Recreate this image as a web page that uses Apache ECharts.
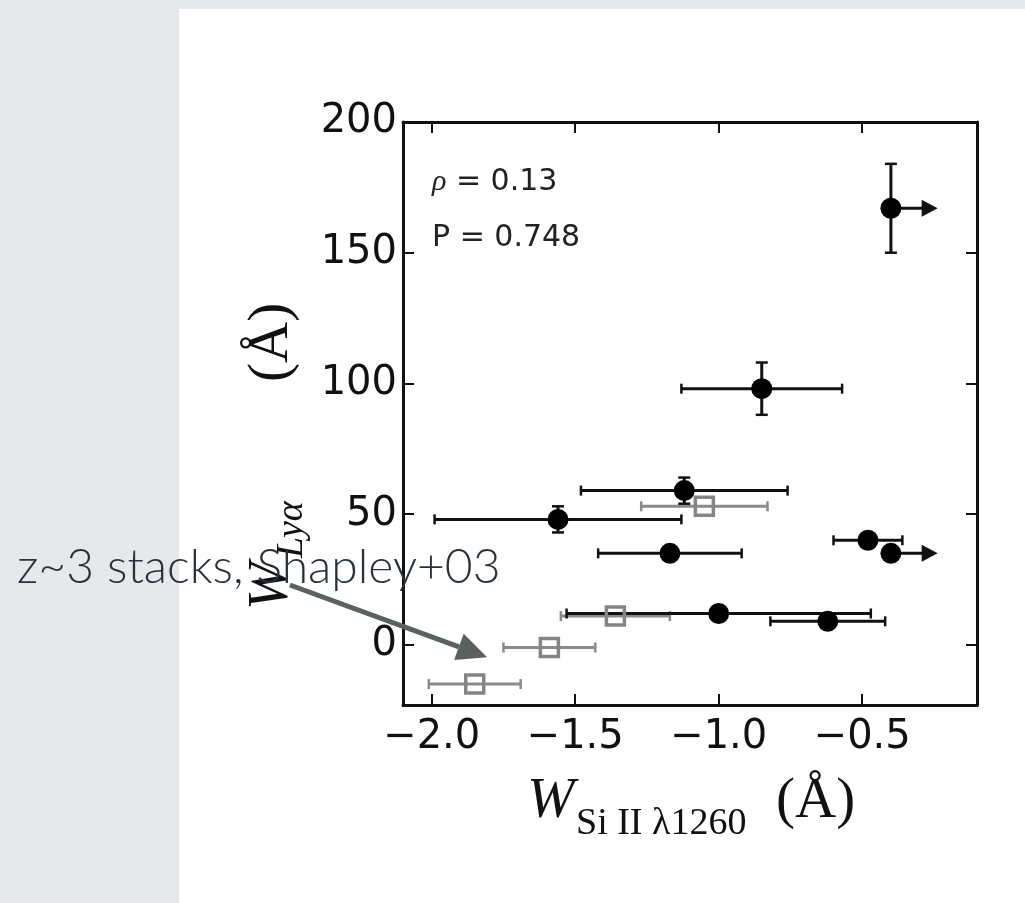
<!DOCTYPE html>
<html><head><meta charset="utf-8">
<script src="https://cdn.jsdelivr.net/npm/echarts@6/dist/echarts.min.js"></script>
<style>html,body{margin:0;padding:0;background:#e6e8eb;overflow:hidden;} #c{width:1025px;height:903px;}</style>
</head><body><div id="c"></div>
<script>
// ---- data ----
// Black filled circles: this sample
const sampleX    = [-0.40, -0.85, -1.12, -1.56, -1.17, -1.00, -0.62, -0.48, -0.40];
const sampleY    = [167,   98,    59,    48,    35,    12,    9,     40,    35];
const sampleXErr = [0,     0.28,  0.36,  0.43,  0.25,  0.53,  0.20,  0.12,  0];
const sampleYErr = [17,    10,    5,     5,     0,     0,     0,     0,     0];
const sampleLowerLimit = [1, 0, 0, 0, 0, 0, 0, 0, 1]; // arrow to the right
// Grey open squares: z~3 stacks, Shapley+03
const stackX    = [-1.05, -1.36, -1.59, -1.85];
const stackY    = [53,    11,    -1,    -15];
const stackXErr = [0.22,  0.19,  0.16,  0.16];
const stackYErr = [0,     0,     0,     0];
// axes
const xTicks = [-2.0, -1.5, -1.0, -0.5];
const yTicks = [0, 50, 100, 150, 200];
const xRange = [-2.1, -0.1];
const yRange = [-23, 200];
const statsText = ['= 0.13', 'P = 0.748'];
const annotationText = 'z~3 stacks, Shapley+03';
// annotation arrow, in data units (tail, tip)
const annotTail = [-2.494, 22.9];
const annotTip  = [-1.807, -4.7];

const ARROW_LEN = 0.163; // length of limit arrows (x units)

function rows(xs, ys, exs, eys, lims) {
  return xs.map((x, i) => [x, ys[i], exs[i], eys[i], lims ? lims[i] : 0]);
}

function errRender(color) {
  return function (params, api) {
    const x = api.value(0), y = api.value(1), ex = api.value(2), ey = api.value(3), lim = api.value(4);
    const c = api.coord([x, y]);
    const ch = [];
    const st = { stroke: color, lineWidth: 3 };
    const cst = { stroke: color, lineWidth: 2.5 };
    if (ex > 0) {
      const l = api.coord([x - ex, y]), r = api.coord([x + ex, y]);
      ch.push({ type: 'line', shape: { x1: l[0], y1: l[1], x2: r[0], y2: r[1] }, style: st });
      ch.push({ type: 'line', shape: { x1: l[0], y1: l[1] - 5, x2: l[0], y2: l[1] + 5 }, style: cst });
      ch.push({ type: 'line', shape: { x1: r[0], y1: r[1] - 5, x2: r[0], y2: r[1] + 5 }, style: cst });
    }
    if (ey > 0) {
      const t = api.coord([x, y + ey]), b = api.coord([x, y - ey]);
      ch.push({ type: 'line', shape: { x1: t[0], y1: t[1], x2: b[0], y2: b[1] }, style: st });
      ch.push({ type: 'line', shape: { x1: t[0] - 6, y1: t[1], x2: t[0] + 6, y2: t[1] }, style: cst });
      ch.push({ type: 'line', shape: { x1: b[0] - 6, y1: b[1], x2: b[0] + 6, y2: b[1] }, style: cst });
    }
    if (lim > 0) {
      const t = api.coord([x + ARROW_LEN, y]);
      ch.push({ type: 'line', shape: { x1: c[0], y1: c[1], x2: t[0] - 14, y2: t[1] }, style: st });
      ch.push({ type: 'polygon', shape: { points: [[t[0] - 16, t[1] - 8.5], [t[0], t[1]], [t[0] - 16, t[1] + 8.5]] }, style: { fill: color } });
    }
    return { type: 'group', children: ch };
  };
}

const chart = echarts.init(document.getElementById('c'), null, { renderer: 'canvas' });
const grid = { left: 403, top: 122, right: 48, bottom: 198 };
const axisCol = '#111';
function xAxis(pos, showLabel) {
  return {
    type: 'value', position: pos, min: xRange[0], max: xRange[1],
    axisLine: { show: true, onZero: false, lineStyle: { color: axisCol, width: 3 } },
    axisTick: { show: true, inside: true, length: 11, customValues: xTicks, lineStyle: { color: axisCol, width: 2 } },
    axisLabel: { show: showLabel, customValues: xTicks, margin: 13, fontSize: 40, fontFamily: 'DejaVu Sans', color: '#111',
      formatter: v => (v < 0 ? '\u2212' : '') + Math.abs(v).toFixed(1) },
    splitLine: { show: false }
  };
}
function yAxis(pos, showLabel) {
  return {
    type: 'value', position: pos, min: yRange[0], max: yRange[1],
    axisLine: { show: true, onZero: false, lineStyle: { color: axisCol, width: 3 } },
    axisTick: { show: true, inside: true, length: 11, customValues: yTicks, lineStyle: { color: axisCol, width: 2 } },
    axisLabel: { show: showLabel, customValues: yTicks, margin: 6, fontSize: 40, fontFamily: 'DejaVu Sans', color: '#111',
      formatter: v => String(v) },
    splitLine: { show: false }
  };
}

const serif = '"Liberation Serif", "DejaVu Serif", serif';

chart.setOption({
  animation: false,
  grid: Object.assign({ outerBoundsMode: 'none' }, grid),
  xAxis: [xAxis('bottom', true), xAxis('top', false)],
  yAxis: [yAxis('left', true), yAxis('right', false)],
  series: [
    { type: 'custom', name: 'stackErr', renderItem: errRender('#8a8a8a'), data: rows(stackX, stackY, stackXErr, stackYErr), z: 2, silent: true },
    { type: 'custom', name: 'sampleErr', renderItem: errRender('#111'), data: rows(sampleX, sampleY, sampleXErr, sampleYErr, sampleLowerLimit), z: 3, silent: true },
    { type: 'scatter', name: 'stacks', data: stackX.map((x, i) => [x, stackY[i]]), symbol: 'rect', symbolSize: 18,
      itemStyle: { color: 'rgba(255,255,255,0)', borderColor: '#858585', borderWidth: 3.5, opacity: 1 }, z: 4 },
    { type: 'scatter', name: 'sample', data: sampleX.map((x, i) => [x, sampleY[i]]), symbol: 'circle', symbolSize: 21,
      itemStyle: { color: '#000', opacity: 1 }, z: 5 }
  ]
});

const tail = chart.convertToPixel({ gridIndex: 0 }, annotTail);
const tip = chart.convertToPixel({ gridIndex: 0 }, annotTip);
const dx = tip[0] - tail[0], dy = tip[1] - tail[1], L = Math.hypot(dx, dy);
const ux = dx / L, uy = dy / L, hl = 30, hw = 14;
const bx = tip[0] - ux * hl, by = tip[1] - uy * hl;

chart.setOption({
  graphic: [
    { type: 'rect', z: -10, silent: true, shape: { x: 179, y: 9, width: 846, height: 894 }, style: { fill: '#fff' } },
    { type: 'text', x: 432, y: 182, z: 10, style: { text: '{r|\u03c1} ' + statsText[0], fontSize: 30, fontFamily: 'DejaVu Sans', fill: '#222', verticalAlign: 'middle',
      rich: { r: { fontSize: 30, fontFamily: serif, fontStyle: 'italic', fill: '#222' } } } },
    { type: 'text', x: 432, y: 238, z: 10, style: { text: statsText[1], fontSize: 30, fontFamily: 'DejaVu Sans', fill: '#222', verticalAlign: 'middle' } },
    // x axis title
    { type: 'text', x: 527, y: 802, z: 10, style: { text: 'W', fontSize: 57, fontFamily: serif, fontStyle: 'italic', fill: '#111', verticalAlign: 'middle' } },
    { type: 'text', x: 576, y: 824, z: 10, style: { text: 'Si II \u03bb1260', fontSize: 38, fontFamily: serif, fill: '#111', verticalAlign: 'middle' } },
    { type: 'text', x: 776, y: 802, z: 10, style: { text: '(\u00c5)', fontSize: 57, fontFamily: serif, fill: '#111', verticalAlign: 'middle' } },
    // y axis title (rotated)
    { type: 'group', x: 272, y: 610, rotation: Math.PI / 2, z: 10, children: [
      { type: 'text', x: 0, y: 0, style: { text: 'W', fontSize: 57, fontFamily: serif, fontStyle: 'italic', fill: '#111', verticalAlign: 'middle' } },
      { type: 'text', x: 52, y: 20, style: { text: 'Ly\u03b1', fontSize: 38, fontFamily: serif, fontStyle: 'italic', fill: '#111', verticalAlign: 'middle' } },
      { type: 'text', x: 228, y: 0, style: { text: '(\u00c5)', fontSize: 57, fontFamily: serif, fill: '#111', verticalAlign: 'middle' } }
    ] },
    // annotation
    { type: 'text', x: 17, y: 568, z: 20, style: { text: annotationText, fontSize: 48, fontFamily: 'Lato', fontWeight: 300, fill: '#2a313b', verticalAlign: 'middle' } },
    { type: 'line', z: 20, shape: { x1: tail[0], y1: tail[1], x2: bx, y2: by }, style: { stroke: '#5b615f', lineWidth: 5 } },
    { type: 'polygon', z: 20, shape: { points: [[tip[0], tip[1]], [bx - uy * hw, by + ux * hw], [bx + uy * hw, by - ux * hw]] }, style: { fill: '#5b615f' } }
  ]
});
</script></body></html>
